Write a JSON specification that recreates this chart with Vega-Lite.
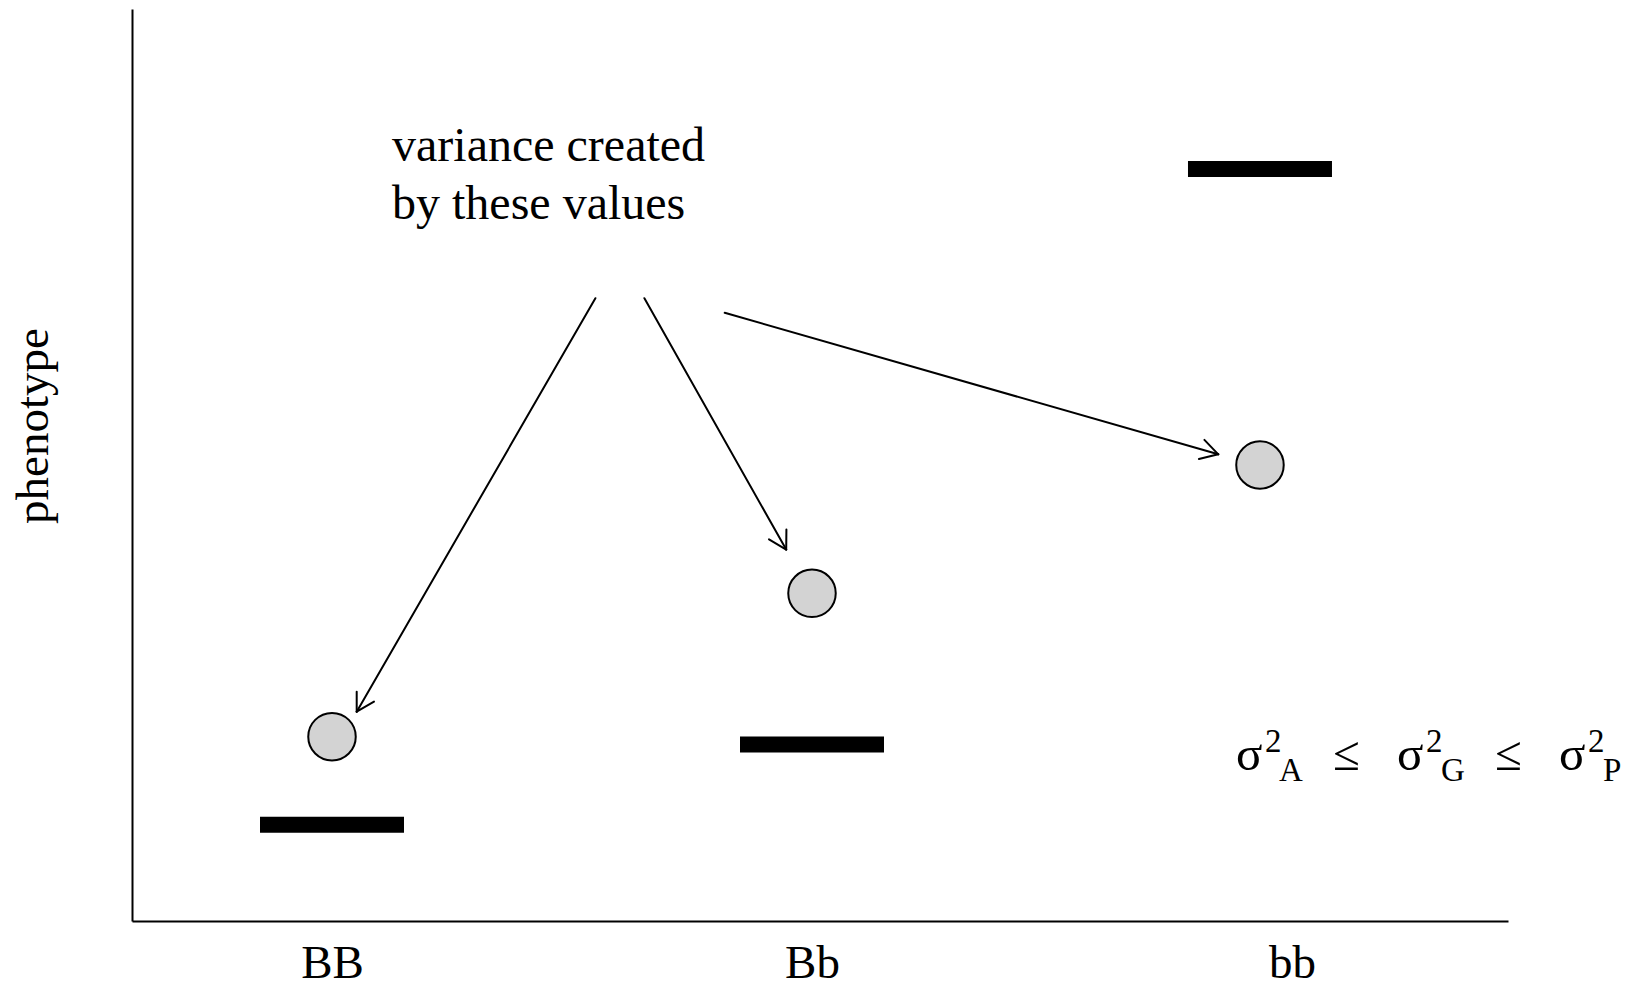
{
  "$schema": "https://vega.github.io/schema/vega-lite/v6.json",
  "width": 1376,
  "height": 912,
  "autosize": {"type": "none"},
  "padding": {"left": 132, "top": 9, "right": 127, "bottom": 67},
  "background": "white",
  "config": {
    "view": {"stroke": null},
    "font": "Liberation Serif",
    "text": {"font": "Liberation Serif", "color": "black"},
    "axisX": {
      "title": null, "values": [1, 2, 3],
      "labelExpr": "datum.value == 1 ? 'BB' : datum.value == 2 ? 'Bb' : 'bb'",
      "ticks": false, "tickSize": 0, "grid": false,
      "domainColor": "black", "domainWidth": 2,
      "labelFont": "Liberation Serif", "labelFontSize": 47, "labelColor": "black",
      "labelBaseline": "alphabetic", "labelPadding": 56, "labelAlign": "center",
      "labelFlush": false, "labelOverlap": false
    },
    "axisY": {
      "labels": false, "ticks": false, "tickSize": 0, "grid": false,
      "domainColor": "black", "domainWidth": 2,
      "titleFont": "Liberation Serif", "titleFontSize": 47, "titleFontWeight": "normal",
      "titleColor": "black", "titleAngle": 270, "titleBaseline": "alphabetic",
      "titleAlign": "center", "titleX": -85, "titleY": 416.5
    }
  },
  "layer": [
    {
      "data": {"values": [
        {"genotype": "BB", "lo": 0.85, "hi": 1.15, "mean": 10.55},
        {"genotype": "Bb", "lo": 1.85, "hi": 2.15, "mean": 19.35},
        {"genotype": "bb", "lo": 2.7833, "hi": 3.0833, "mean": 82.46}
      ]},
      "mark": {"type": "rule", "color": "black", "strokeWidth": 16, "strokeCap": "butt"},
      "encoding": {
        "x": {
          "field": "lo", "type": "quantitative",
          "scale": {"domain": [0.58333, 3.45], "nice": false, "zero": false},
          "axis": {"title": null, "values": [1, 2, 3], "labelExpr": "datum.value == 1 ? 'BB' : datum.value == 2 ? 'Bb' : 'bb'"}
        },
        "x2": {"field": "hi"},
        "y": {
          "field": "mean", "type": "quantitative",
          "scale": {"domain": [0, 100], "nice": false, "zero": false},
          "axis": {"title": "phenotype", "labels": false, "ticks": false}
        }
      }
    },
    {
      "data": {"values": [
        {"genotype": "BB", "pos": 1, "obs": 20.21},
        {"genotype": "Bb", "pos": 2, "obs": 35.93},
        {"genotype": "bb", "pos": 2.9333, "obs": 50.0}
      ]},
      "mark": {"type": "point", "shape": "circle", "filled": true, "fill": "#d3d3d3", "stroke": "black", "strokeWidth": 2, "size": 2256, "opacity": 1},
      "encoding": {
        "x": {"field": "pos", "type": "quantitative", "scale": {"domain": [0.58333, 3.45], "nice": false, "zero": false}, "axis": {"title": null}},
        "y": {"field": "obs", "type": "quantitative", "scale": {"domain": [0, 100], "nice": false, "zero": false}, "axis": {"title": "phenotype"}}
      }
    },
    {
      "data": {"values": [
        {"part": "shaft1", "x": 1.54875, "y": 68.29, "x2": 1.05146, "y2": 22.95},
        {"part": "head1a", "x": 1.05146, "y": 22.95, "x2": 1.05146, "y2": 25.14},
        {"part": "head1b", "x": 1.05146, "y": 22.95, "x2": 1.0875, "y2": 24.05},
        {"part": "shaft2", "x": 1.65083, "y": 68.29, "x2": 1.94625, "y2": 40.73},
        {"part": "head2a", "x": 1.94625, "y": 40.73, "x2": 1.94667, "y2": 42.93},
        {"part": "head2b", "x": 1.94625, "y": 40.73, "x2": 1.91042, "y2": 41.85},
        {"part": "shaft3", "x": 1.81813, "y": 66.69, "x2": 2.84646, "y2": 51.17},
        {"part": "head3a", "x": 2.84646, "y": 51.17, "x2": 2.8175, "y2": 52.75},
        {"part": "head3b", "x": 2.84646, "y": 51.17, "x2": 2.80604, "y2": 50.65}
      ]},
      "mark": {"type": "rule", "color": "black", "strokeWidth": 2, "strokeCap": "round"},
      "encoding": {
        "x": {"field": "x", "type": "quantitative", "scale": {"domain": [0.58333, 3.45], "nice": false, "zero": false}, "axis": {"title": null}},
        "y": {"field": "y", "type": "quantitative", "scale": {"domain": [0, 100], "nice": false, "zero": false}, "axis": {"title": "phenotype"}},
        "x2": {"field": "x2"},
        "y2": {"field": "y2"}
      }
    },
    {
      "data": {"values": [
        {"label": "variance created", "x": 1.125, "y": 83.33},
        {"label": "by these values", "x": 1.125, "y": 76.92}
      ]},
      "mark": {"type": "text", "align": "left", "baseline": "alphabetic", "fontSize": 48, "font": "Liberation Serif", "color": "black"},
      "encoding": {
        "x": {"field": "x", "type": "quantitative", "scale": {"domain": [0.58333, 3.45], "nice": false, "zero": false}, "axis": {"title": null}},
        "y": {"field": "y", "type": "quantitative", "scale": {"domain": [0, 100], "nice": false, "zero": false}, "axis": {"title": "phenotype"}},
        "text": {"field": "label"}
      }
    },
    {
      "data": {"values": [
        {"glyph": "σ", "x": 2.8833, "y": 16.56},
        {"glyph": "≤", "x": 3.0854, "y": 16.56},
        {"glyph": "σ", "x": 3.21875, "y": 16.56},
        {"glyph": "≤", "x": 3.4229, "y": 16.56},
        {"glyph": "σ", "x": 3.55625, "y": 16.56}
      ]},
      "mark": {"type": "text", "align": "left", "baseline": "alphabetic", "fontSize": 49, "font": "Liberation Serif", "color": "black"},
      "encoding": {
        "x": {"field": "x", "type": "quantitative", "scale": {"domain": [0.58333, 3.45], "nice": false, "zero": false}, "axis": {"title": null}},
        "y": {"field": "y", "type": "quantitative", "scale": {"domain": [0, 100], "nice": false, "zero": false}, "axis": {"title": "phenotype"}},
        "text": {"field": "glyph"}
      }
    },
    {
      "data": {"values": [
        {"glyph": "2", "x": 2.94375, "y": 18.5},
        {"glyph": "A", "x": 2.9729, "y": 15.35},
        {"glyph": "2", "x": 3.2792, "y": 18.5},
        {"glyph": "G", "x": 3.3104, "y": 15.35},
        {"glyph": "2", "x": 3.6167, "y": 18.5},
        {"glyph": "P", "x": 3.6479, "y": 15.35}
      ]},
      "mark": {"type": "text", "align": "left", "baseline": "alphabetic", "fontSize": 33, "font": "Liberation Serif", "color": "black"},
      "encoding": {
        "x": {"field": "x", "type": "quantitative", "scale": {"domain": [0.58333, 3.45], "nice": false, "zero": false}, "axis": {"title": null}},
        "y": {"field": "y", "type": "quantitative", "scale": {"domain": [0, 100], "nice": false, "zero": false}, "axis": {"title": "phenotype"}},
        "text": {"field": "glyph"}
      }
    }
  ]
}
